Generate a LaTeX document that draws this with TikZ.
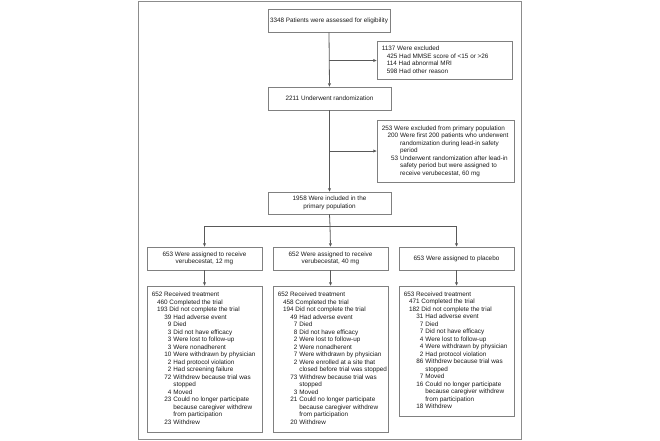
\documentclass[tikz,border=0pt]{standalone}
\usepackage{fontspec}
\setmainfont{Liberation Sans}
\usetikzlibrary{arrows.meta}
\definecolor{framec}{gray}{0.55}
\definecolor{boxc}{gray}{0.5}
\definecolor{linec}{gray}{0.35}
\definecolor{txtc}{gray}{0.1}
% left-aligned block of fixed width #1, number column width #2
\newcommand\tb[3]{\makebox[#1][l]{\begin{tabular}{@{}r@{\hspace{2pt}}l@{}}\makebox[#2]{}&\\[-7.5pt]#3\end{tabular}}}
\newcommand\Lz[1]{\multicolumn{2}{@{}l@{}}{#1}}
\newcommand\Lo[2]{\multicolumn{2}{@{}l@{}}{\hspace*{#1}#2}}
\begin{document}
\begin{tikzpicture}[x=1pt,y=-1pt,
  box/.style={draw=boxc, line width=0.8pt, text=txtc, inner ysep=0pt,
    font=\fontsize{6.35}{7.5}\selectfont},
  cbox/.style={box, align=center, inner xsep=1pt, minimum width=#1},
  lbox/.style={box, inner xsep=4.8pt},
  arr/.style={draw=linec, line width=0.8pt, -{Triangle[length=3.2pt,width=2.8pt]}},
  ln/.style={draw=linec, line width=0.8pt}]
\useasboundingbox (0,0) rectangle (660,440);
\draw[framec, line width=0.9pt] (138,1) rectangle (521,439);

\node[cbox=122pt, minimum height=23pt] (A) at (329,20.5) {3348 Patients were assessed for eligibility};
\node[lbox, minimum height=38pt] (B) at (444.5,60.5) {\tb{125.4pt}{0pt}{%
\Lz{1137 Were excluded}\\
\Lo{5pt}{425 Had MMSE score of <15 or >26}\\
\Lo{5pt}{114 Had abnormal MRI}\\
\Lo{5pt}{598 Had other reason}}};
\node[cbox=123pt, minimum height=23pt] (C) at (329.5,98.5) {2211 Underwent randomization};
\node[lbox, minimum height=62pt] (D) at (445.5,151) {\tb{127.4pt}{16.3pt}{%
\Lz{253 Were excluded from primary population}\\
200 & Were first 200 patients who underwent\\
 & randomization during lead-in safety\\
 & period\\
53 & Underwent randomization after lead-in\\
 & safety period but were assigned to\\
 & receive verubecestat, 60 mg}};
\node[cbox=123pt, minimum height=22pt] (E) at (329.5,203) {1958 Were included in the\\primary population};

\node[cbox=115pt, minimum height=23pt] (F1) at (204.5,258.5) {653 Were assigned to receive\\verubecestat, 12 mg};
\node[cbox=115pt, minimum height=23pt] (F2) at (330.5,258.5) {652 Were assigned to receive\\verubecestat, 40 mg};
\node[cbox=115pt, minimum height=23pt] (F3) at (456.5,258.5) {653 Were assigned to placebo};

\node[lbox, minimum height=146pt] (G1) at (204.5,359) {\tb{105.4pt}{19.6pt}{%
\Lz{652 Received treatment}\\
\Lo{5.3pt}{460 Completed the trial}\\
\Lo{5.3pt}{193 Did not complete the trial}\\
39 & Had adverse event\\
9 & Died\\
3 & Did not have efficacy\\
3 & Were lost to follow-up\\
3 & Were nonadherent\\
10 & Were withdrawn by physician\\
2 & Had protocol violation\\
2 & Had screening failure\\
72 & Withdrew because trial was\\
 & stopped\\
4 & Moved\\
23 & Could no longer participate\\
 & because caregiver withdrew\\
 & from participation\\
23 & Withdrew}};
\node[lbox, minimum height=146pt] (G2) at (330.5,359) {\tb{105.4pt}{19.6pt}{%
\Lz{652 Received treatment}\\
\Lo{5.3pt}{458 Completed the trial}\\
\Lo{5.3pt}{194 Did not complete the trial}\\
49 & Had adverse event\\
7 & Died\\
8 & Did not have efficacy\\
2 & Were lost to follow-up\\
2 & Were nonadherent\\
7 & Were withdrawn by physician\\
2 & Were enrolled at a site that\\
 & closed before trial was stopped\\
73 & Withdrew because trial was\\
 & stopped\\
3 & Moved\\
21 & Could no longer participate\\
 & because caregiver withdrew\\
 & from participation\\
20 & Withdrew}};
\node[lbox, minimum height=130pt] (G3) at (456.5,351) {\tb{105.4pt}{19.6pt}{%
\Lz{653 Received treatment}\\
\Lo{5.3pt}{471 Completed the trial}\\
\Lo{5.3pt}{182 Did not complete the trial}\\
31 & Had adverse event\\
7 & Died\\
7 & Did not have efficacy\\
4 & Were lost to follow-up\\
4 & Were withdrawn by physician\\
2 & Had protocol violation\\
86 & Withdrew because trial was\\
 & stopped\\
7 & Moved\\
16 & Could no longer participate\\
 & because caregiver withdrew\\
 & from participation\\
18 & Withdrew}};

\draw[arr] (A.south) -- (C.north);
\draw[arr] (A.south |- B.west) -- (B.west);
\draw[arr] (C.south) -- (E.north);
\draw[arr] (C.south |- D.west) -- (D.west);
\coordinate (br) at (330,226);
\draw[ln] (E.south) -- (br);
\draw[ln] (F1.north |- br) -- (F3.north |- br);
\draw[arr] (F1.north |- br) -- (F1.north);
\draw[arr] (br) -- (F2.north);
\draw[arr] (F3.north |- br) -- (F3.north);
\draw[arr] (F1.south) -- (G1.north);
\draw[arr] (F2.south) -- (G2.north);
\draw[arr] (F3.south) -- (G3.north);
\end{tikzpicture}
\end{document}
